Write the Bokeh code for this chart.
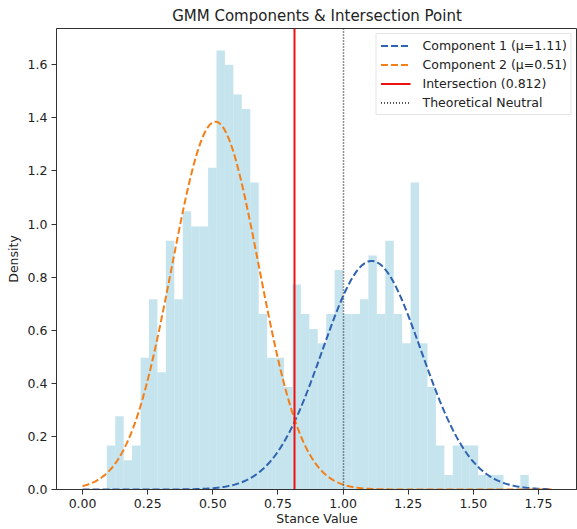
import numpy as np
from bokeh.plotting import figure
from bokeh.models import FixedTicker, Legend, LegendItem, Range1d
from bokeh.embed import file_html
from bokeh.resources import INLINE

# ---- data ----
hist_density = [0.166, 0.276, 0.110, 0.166, 0.496, 0.717, 0.442, 0.937, 0.717, 1.048,
                0.991, 0.991, 1.212, 1.654, 1.600, 1.488, 1.433, 1.157, 0.661, 0.496,
                0.496, 0.386, 0.772, 0.661, 0.605, 0.551, 0.661, 0.827, 0.661, 0.661,
                0.717, 0.882, 0.661, 0.937, 0.661, 0.551, 1.157, 0.551, 0.386, 0.166,
                0.055, 0.166, 0.166, 0.166, 0.055, 0.055, 0.055, 0.0, 0.0, 0.055]
bin_start = 0.093
bin_width = 0.0324

comp1_mu, comp1_sigma, comp1_weight = 1.11, 0.19, 0.41
comp2_mu, comp2_sigma, comp2_weight = 0.51, 0.167, 0.58
curve_min, curve_max = 0.0, 1.8
intersection = 0.812
neutral = 1.0

x_ticks = [0.0, 0.25, 0.5, 0.75, 1.0, 1.25, 1.5, 1.75]
y_ticks = [0.0, 0.2, 0.4, 0.6, 0.8, 1.0, 1.2, 1.4, 1.6]

FONT = "DejaVu Sans"

edges = bin_start + bin_width * np.arange(len(hist_density) + 1)
xs = np.linspace(curve_min, curve_max, 400)


def gauss(x, mu, sigma, w):
    return w * np.exp(-0.5 * ((x - mu) / sigma) ** 2) / (sigma * np.sqrt(2 * np.pi))


y1 = gauss(xs, comp1_mu, comp1_sigma, comp1_weight)
y2 = gauss(xs, comp2_mu, comp2_sigma, comp2_weight)
y_top = max(hist_density) * 1.05

p = figure(width=577, height=529, output_backend="svg", toolbar_location=None,
           x_range=Range1d(-0.1, 1.9), y_range=Range1d(0, y_top),
           title="GMM Components & Intersection Point",
           min_border_left=56, min_border_right=0, min_border_top=28, min_border_bottom=40)

p.quad(left=edges[:-1], right=edges[1:], bottom=0, top=hist_density,
       fill_color="#add8e6", fill_alpha=0.7, line_color=None)

r1 = p.line(xs, y1, line_color="#2f62b0", line_width=2, line_dash="7 3")
r2 = p.line(xs, y2, line_color="#f57f17", line_width=2, line_dash="7 3")
r3 = p.vspan(x=[intersection], line_color="#ee1111", line_width=2)
r4 = p.vspan(x=[neutral], line_color="#222222", line_width=1.5, line_dash="1 2")

legend = Legend(items=[
    LegendItem(label="Component 1 (\u03bc=1.11)", renderers=[r1]),
    LegendItem(label="Component 2 (\u03bc=0.51)", renderers=[r2]),
    LegendItem(label="Intersection (0.812)", renderers=[r3]),
    LegendItem(label="Theoretical Neutral", renderers=[r4]),
], location="top_right")
legend.label_text_font = FONT
legend.label_text_font_size = "12.5px"
legend.label_text_color = "#222222"
legend.glyph_width = 30
legend.glyph_height = 15
legend.label_standoff = 12
legend.spacing = 4
legend.padding = 4
legend.margin = 5
legend.border_line_color = "#cccccc"
legend.border_line_width = 1
legend.background_fill_alpha = 0.85
p.add_layout(legend)

p.title.text_font = FONT
p.title.text_font_size = "15px"
p.title.text_font_style = "normal"
p.title.align = "center"
p.title.text_color = "#222222"
p.title.standoff = 8

p.xgrid.visible = False
p.ygrid.visible = False
p.outline_line_color = "#333333"
p.outline_line_width = 1

p.xaxis.ticker = FixedTicker(ticks=x_ticks)
p.yaxis.ticker = FixedTicker(ticks=y_ticks)
p.xaxis.major_label_overrides = {t: f"{t:.2f}" for t in x_ticks}
p.yaxis.major_label_overrides = {t: f"{t:.1f}" for t in y_ticks}

for ax in (p.xaxis, p.yaxis):
    ax.axis_line_color = "#333333"
    ax.major_tick_line_color = "#333333"
    ax.major_tick_out = 5
    ax.major_tick_in = 0
    ax.minor_tick_line_color = None
    ax.major_label_text_font = FONT
    ax.major_label_text_font_size = "12.5px"
    ax.major_label_text_color = "#222222"
    ax.axis_label_text_font = FONT
    ax.axis_label_text_font_size = "12.5px"
    ax.axis_label_text_font_style = "normal"
    ax.axis_label_text_color = "#222222"
    ax.major_label_standoff = 4
    ax.axis_label_standoff = 4

p.xaxis.axis_label_standoff = 0
p.xaxis.major_label_standoff = 4
p.xaxis.axis_label = "Stance Value"
p.yaxis.axis_label = "Density"

open("out.html", "w").write(file_html(p, INLINE))
